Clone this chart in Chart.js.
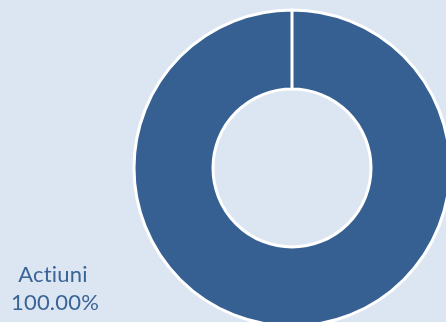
<!DOCTYPE html>
<html>
<head>
<meta charset="utf-8">
<script src="https://cdn.jsdelivr.net/npm/chart.js@4/dist/chart.umd.min.js"></script>
<style>
  html, body { margin: 0; padding: 0; background: #dce6f2; }
  #wrap { width: 446px; height: 322px; position: relative; }
</style>
</head>
<body>
<div id="wrap"><canvas id="c" width="446" height="322"></canvas></div>
<script>
const categories = ["Actiuni"];
const values = [100];
const sliceColors = ["#376092"];

const total = values.reduce((a, b) => a + b, 0);

const labelPlugin = {
  id: 'sideLabel',
  afterDraw(chart) {
    const ctx = chart.ctx;
    ctx.save();
    ctx.fillStyle = '#3b6496';
    ctx.font = '22px Lato, "Open Sans", sans-serif';
    if ('letterSpacing' in ctx) ctx.letterSpacing = '0.2px';
    ctx.textAlign = 'center';
    ctx.textBaseline = 'alphabetic';
    categories.forEach((cat, i) => {
      const pct = (values[i] / total * 100).toFixed(2) + '%';
      ctx.fillText(cat, 53, 282);
      ctx.fillText(pct, 55, 310);
    });
    ctx.restore();
  }
};

new Chart(document.getElementById('c'), {
  type: 'doughnut',
  data: {
    labels: categories,
    datasets: [{
      data: values,
      backgroundColor: sliceColors,
      borderColor: '#ffffff',
      borderWidth: 3,
      radius: 158,
      cutout: '50%'
    }]
  },
  options: {
    responsive: false,
    animation: false,
    layout: { padding: { left: 138, right: 0, top: 14, bottom: 0 } },
    plugins: {
      legend: { display: false },
      tooltip: { enabled: false }
    }
  },
  plugins: [labelPlugin]
});
</script>
</body>
</html>
